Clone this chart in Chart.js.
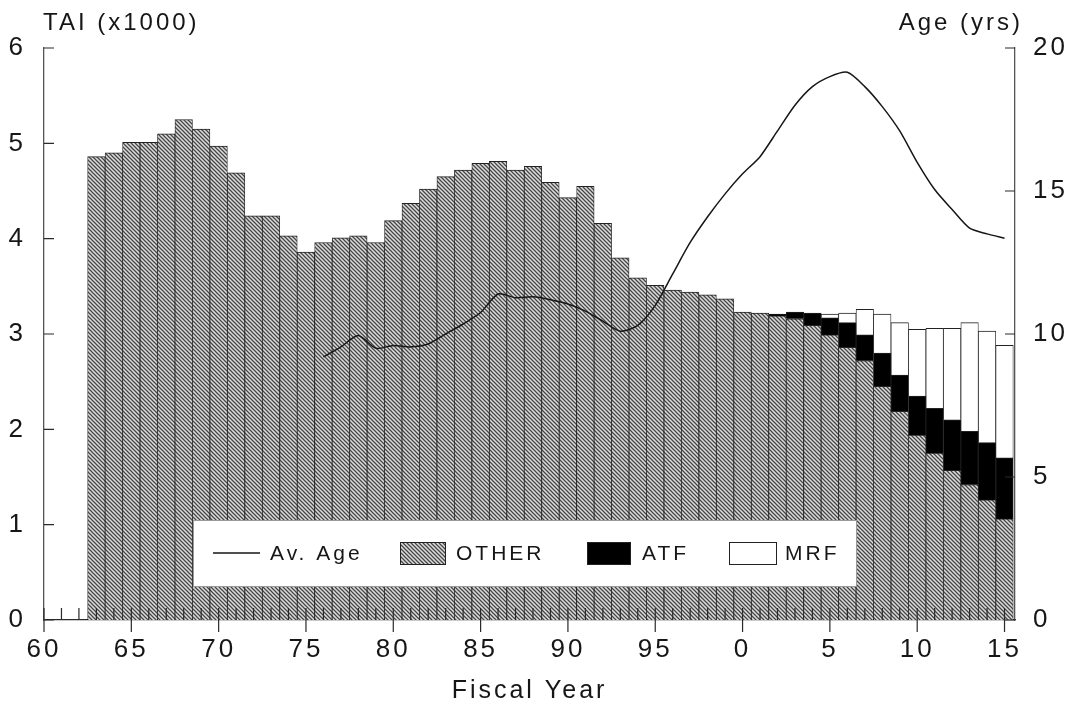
<!DOCTYPE html>
<html>
<head>
<meta charset="utf-8">
<script src="https://cdn.jsdelivr.net/npm/chart.js@4.4.1/dist/chart.umd.min.js"></script>
<style>
  html, body { margin: 0; padding: 0; background: #fff; }
</style>
</head>
<body>
<canvas id="taiChart" width="1065" height="706"></canvas>
<script>
// fiscal years with bars
const years = [1963, 1964, 1965, 1966, 1967, 1968, 1969, 1970, 1971, 1972,
               1973, 1974, 1975, 1976, 1977, 1978, 1979, 1980, 1981, 1982,
               1983, 1984, 1985, 1986, 1987, 1988, 1989, 1990, 1991, 1992,
               1993, 1994, 1995, 1996, 1997, 1998, 1999, 2000, 2001, 2002,
               2003, 2004, 2005, 2006, 2007, 2008, 2009, 2010, 2011, 2012,
               2013, 2014, 2015];

// TAI (x1000)
const otherValues = [4.86, 4.90, 5.01, 5.01, 5.10, 5.25, 5.15, 4.97, 4.69, 4.24,
                     4.24, 4.03, 3.86, 3.96, 4.01, 4.03, 3.96, 4.19, 4.37, 4.52,
                     4.65, 4.72, 4.79, 4.81, 4.72, 4.76, 4.59, 4.43, 4.55, 4.16,
                     3.80, 3.59, 3.51, 3.46, 3.44, 3.41, 3.37, 3.23, 3.22, 3.19,
                     3.16, 3.09, 2.99, 2.86, 2.72, 2.45, 2.19, 1.94, 1.75, 1.57,
                     1.42, 1.26, 1.06];
const atfValues = [null, null, null, null, null, null, null, null, null, null,
                   null, null, null, null, null, null, null, null, null, null,
                   null, null, null, null, null, null, null, null, null, null,
                   null, null, null, null, null, null, null, null, null, 0.02,
                   0.07, 0.13, 0.18, 0.26, 0.27, 0.35, 0.38, 0.41, 0.47, 0.53,
                   0.56, 0.60, 0.64];
const mrfValues = [null, null, null, null, null, null, null, null, null, null,
                   null, null, null, null, null, null, null, null, null, null,
                   null, null, null, null, null, null, null, null, null, null,
                   null, null, null, null, null, null, null, null, null, null,
                   null, null, 0.04, 0.10, 0.27, 0.41, 0.55, 0.70, 0.84, 0.96,
                   1.14, 1.17, 1.18];

// average age (yrs), right axis
const ageYears = [1976, 1977, 1978, 1979, 1980, 1981, 1982, 1983, 1984, 1985,
                  1986, 1987, 1988, 1989, 1990, 1991, 1992, 1993, 1994, 1995,
                  1996, 1997, 1998, 1999, 2000, 2001, 2002, 2003, 2004, 2005,
                  2006, 2007, 2008, 2009, 2010, 2011, 2012, 2013, 2014, 2015];
const ageValues = [9.2, 9.55, 9.95, 9.5, 9.6, 9.55, 9.65, 10.0, 10.35, 10.75,
                   11.4, 11.27, 11.3, 11.2, 11.05, 10.8, 10.45, 10.1, 10.3, 11.0,
                   12.1, 13.2, 14.1, 14.9, 15.6, 16.2, 17.1, 18.0, 18.65, 19.0,
                   19.15, 18.65, 17.95, 17.1, 16.0, 15.05, 14.35, 13.7, 13.5, 13.35];

const seriesLabels = ['Av. Age', 'OTHER', 'ATF', 'MRF'];

const FONT = "'Liberation Sans', Arial, Helvetica, sans-serif";
const INK = '#161616';

const canvas = document.getElementById('taiChart');

function makeHatch() {
    const tile = document.createElement('canvas');
    tile.width = 4;
    tile.height = 4;
    const g = tile.getContext('2d');
    g.fillStyle = '#dcdcdc';
    g.fillRect(0, 0, 4, 4);
    g.strokeStyle = '#454545';
    g.lineWidth = 1.25;
    g.beginPath();
    g.moveTo(-1, -1); g.lineTo(5, 5);
    g.moveTo(-1, 3); g.lineTo(1, 5);
    g.moveTo(3, -1); g.lineTo(5, 1);
    g.stroke();
    return canvas.getContext('2d').createPattern(tile, 'repeat');
}

const hatch = makeHatch();
const toPoints = (xs, ys) => xs.map((x, i) => ({ x: x, y: ys[i] }));

const barStyle = {
    barPercentage: 1,
    categoryPercentage: 1,
    borderColor: '#222',
    borderWidth: { top: 1, left: 0.8, right: 0.8, bottom: 0 },
    borderSkipped: false,
    order: 1
};

// wide letter spacing like the original typesetting
const spacing = {
    id: 'spacing',
    beforeDraw(chart) {
        chart.ctx.letterSpacing = '3px';
    }
};

const axisMarks = {
    id: 'axisMarks',
    afterDatasetsDraw(chart) {
        const { ctx, chartArea, scales } = chart;
        ctx.save();
        ctx.strokeStyle = '#2a2a2a';
        ctx.lineWidth = 1.2;
        ctx.beginPath();
        scales.x.ticks.forEach(t => {
            const px = scales.x.getPixelForValue(t.value);
            ctx.moveTo(px, chartArea.bottom);
            ctx.lineTo(px, chartArea.bottom - 12);
            if (t.value % 5 === 0) {
                ctx.moveTo(px, chartArea.bottom);
                ctx.lineTo(px, chartArea.bottom + 12);
            }
        });
        scales.y.ticks.forEach(t => {
            const py = scales.y.getPixelForValue(t.value);
            ctx.moveTo(chartArea.left, py);
            ctx.lineTo(chartArea.left + 10, py);
        });
        scales.y2.ticks.forEach(t => {
            const py = scales.y2.getPixelForValue(t.value);
            ctx.moveTo(chartArea.right, py);
            ctx.lineTo(chartArea.right - 10, py);
        });
        ctx.stroke();
        ctx.restore();
    }
};

const titlesAndLegend = {
    id: 'titlesAndLegend',
    afterDraw(chart) {
        const ctx = chart.ctx;
        ctx.save();
        ctx.fillStyle = INK;
        ctx.font = '24px ' + FONT;
        ctx.textBaseline = 'alphabetic';
        ctx.textAlign = 'left';
        ctx.fillText('TAI (x1000)', 43, 30);
        ctx.textAlign = 'right';
        ctx.fillText('Age (yrs)', 1023, 30);

        // legend box
        ctx.fillStyle = '#fff';
        ctx.fillRect(193, 520, 663, 66);
        ctx.strokeStyle = '#9a9a9a';
        ctx.lineWidth = 1;
        ctx.strokeRect(193.5, 520.5, 663, 66);

        const midY = 553;
        ctx.strokeStyle = INK;
        ctx.lineWidth = 1.6;
        ctx.beginPath();
        ctx.moveTo(213, midY);
        ctx.lineTo(260, midY);
        ctx.stroke();

        const swatches = [
            { x: 400, w: 46, fill: hatch },
            { x: 587, w: 44, fill: '#000' },
            { x: 729, w: 48, fill: '#fff' }
        ];
        swatches.forEach(s => {
            ctx.fillStyle = s.fill;
            ctx.fillRect(s.x, 542, s.w, 23);
            ctx.strokeStyle = '#222';
            ctx.lineWidth = 1;
            ctx.strokeRect(s.x + 0.5, 542.5, s.w - 1, 22);
        });

        ctx.fillStyle = INK;
        ctx.font = '21px ' + FONT;
        ctx.textAlign = 'left';
        ctx.textBaseline = 'middle';
        const textX = [270, 456, 642, 785];
        seriesLabels.forEach((lbl, i) => ctx.fillText(lbl, textX[i], midY + 1));
        ctx.restore();
    }
};

function createTaiChart() {
    new Chart(canvas, {
        type: 'bar',
        data: {
            datasets: [
                {
                    type: 'line',
                    label: seriesLabels[0],
                    data: toPoints(ageYears, ageValues),
                    yAxisID: 'y2',
                    borderColor: INK,
                    borderWidth: 1.5,
                    pointRadius: 0,
                    tension: 0.25,
                    fill: false,
                    order: 0
                },
                Object.assign({ label: seriesLabels[1], data: toPoints(years, otherValues), backgroundColor: hatch }, barStyle),
                Object.assign({ label: seriesLabels[2], data: toPoints(years, atfValues), backgroundColor: '#000' }, barStyle),
                Object.assign({ label: seriesLabels[3], data: toPoints(years, mrfValues), backgroundColor: '#fff' }, barStyle)
            ]
        },
        options: {
            responsive: false,
            animation: false,
            layout: { padding: { top: 48, left: 0, right: 0, bottom: 0 } },
            plugins: {
                legend: { display: false },
                tooltip: { enabled: false }
            },
            scales: {
                x: {
                    type: 'linear',
                    min: 1960,
                    max: 2015.6,
                    offset: false,
                    stacked: true,
                    z: 1,
                    grid: { display: false, offset: false },
                    border: { color: '#2a2a2a', width: 1.3 },
                    ticks: {
                        stepSize: 1,
                        autoSkip: false,
                        maxTicksLimit: 100,
                        includeBounds: false,
                        maxRotation: 0,
                        padding: 6,
                        color: INK,
                        font: { family: FONT, size: 26 },
                        callback: v => (v % 5 === 0 ? String(v % 100) : '')
                    },
                    title: {
                        display: true,
                        text: 'Fiscal Year',
                        color: INK,
                        font: { family: FONT, size: 25 },
                        padding: { top: 0, bottom: 0 }
                    },
                    afterFit: s => { s.height = 86; }
                },
                y: {
                    position: 'left',
                    min: 0,
                    max: 6,
                    stacked: true,
                    grid: { display: false },
                    border: { color: '#555', width: 1.3 },
                    ticks: { stepSize: 1, padding: 10, color: INK, font: { family: FONT, size: 26 } },
                    afterFit: s => { s.width = 44; }
                },
                y2: {
                    position: 'right',
                    min: 0,
                    max: 20,
                    grid: { display: false },
                    border: { color: '#555', width: 1.3 },
                    ticks: { stepSize: 5, padding: 10, color: INK, font: { family: FONT, size: 26 } },
                    afterFit: s => { s.width = 50; }
                }
            }
        },
        plugins: [spacing, axisMarks, titlesAndLegend]
    });
}

document.addEventListener('DOMContentLoaded', () => {
    createTaiChart();
});
</script>
</body>
</html>
